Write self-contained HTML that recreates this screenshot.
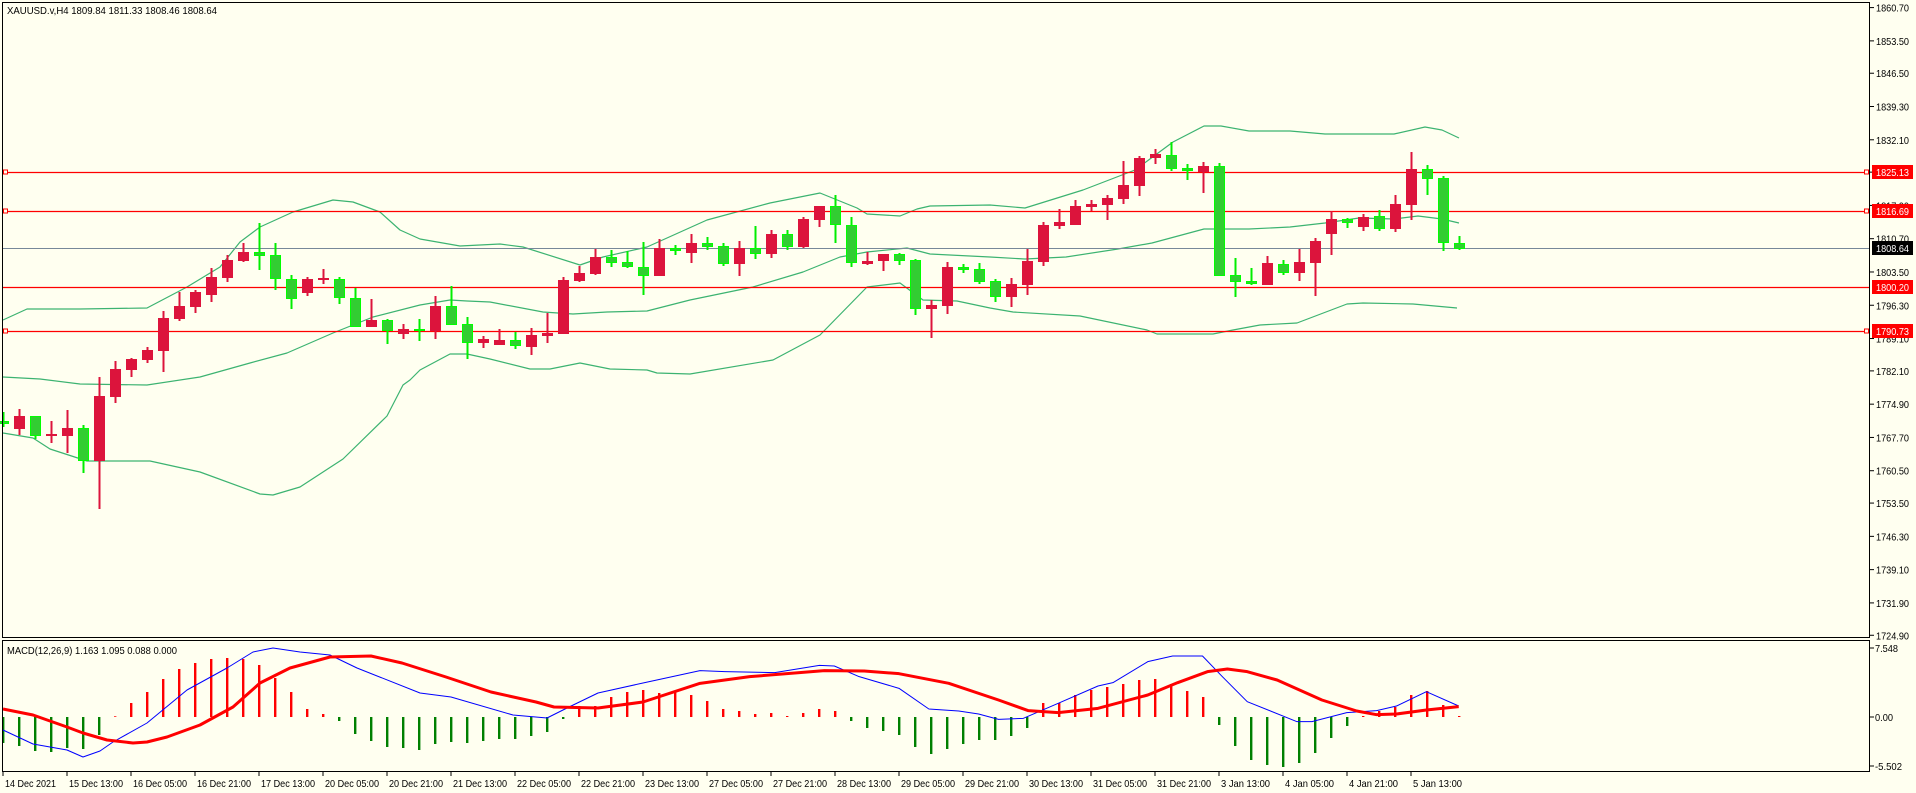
<!DOCTYPE html>
<html><head><meta charset="utf-8">
<style>
html,body{margin:0;padding:0;background:#FFFFF0;}
svg{display:block;}
text{font-family:"Liberation Sans",sans-serif;font-size:10.5px;}
</style></head>
<body>
<svg id="s" width="1916" height="793" xmlns="http://www.w3.org/2000/svg">
<rect x="0" y="0" width="1916" height="793" fill="#FFFFF0"/>
<g id="g"></g>
</svg>
<script>
var NS="http://www.w3.org/2000/svg",G=document.getElementById('g');
function el(t,a,txt){var e=document.createElementNS(NS,t);for(var k in a)e.setAttribute(k,a[k]);if(txt!=null)e.textContent=txt;G.appendChild(e);return e;}
function tx(x,y,s,len,col){return el('text',{x:x,y:y,fill:col||'#000',textLength:len,lengthAdjust:'spacingAndGlyphs'},s);}
function poly(pts,col,w){el('polyline',{points:pts.map(function(p){return p[0]+','+p[1]}).join(' '),fill:'none',stroke:col,'stroke-width':w,'stroke-linejoin':'round'});}
var up=[[3,320],[27,309],[80,309],[147,308],[187,287],[220,267],[240,242],[260,227],[293,212],[333,200],[353,202],[380,212],[400,230],[420,239],[460,246],[500,244],[523,247],[580,265],[603,257],[647,247],[707,220],[770,203],[820,193],[857,208],[867,214],[900,216],[917,209],[930,206],[990,205],[1025,208],[1083,190],[1135,170],[1173,142],[1204,126],[1221,126],[1249,131],[1290,131],[1325,134],[1394,134],[1425,127],[1442,130],[1459,138]];
var mid=[[3,377],[40,379],[80,384],[147,385],[200,377],[250,363],[287,353],[333,333],[373,317],[420,305],[450,300],[467,301],[490,302],[543,312],[573,314],[607,312],[647,311],[690,300],[753,287],[803,272],[840,257],[867,252],[907,248],[930,254],[990,257],[1025,259],[1066,257],[1118,249],[1152,243],[1204,229],[1249,229],[1290,227],[1325,223],[1359,218],[1394,219],[1418,216],[1442,219],[1459,223]];
var lo=[[3,433],[33,438],[50,449],[87,461],[150,461],[200,472],[260,494],[273,495],[300,487],[343,459],[387,416],[403,385],[410,380],[420,370],[450,354],[467,354],[490,359],[530,369],[550,369],[580,363],[610,369],[647,370],[657,373],[690,374],[773,360],[820,335],[867,287],[900,283],[923,300],[957,301],[990,308],[1013,312],[1080,316],[1147,330],[1157,334],[1213,334],[1233,330],[1260,325],[1297,323],[1347,304],[1363,303],[1413,304],[1457,308]];
[up,mid,lo].forEach(function(a){poly(a,'#3CB371',1.2)});
[[172,1],[211,1],[287,0],[331,1]].forEach(function(l){
 el('line',{x1:3,x2:1870,y1:l[0]+.5,y2:l[0]+.5,stroke:'#FF0000','stroke-width':1.2});
 if(l[1]){el('rect',{x:3.5,y:l[0]-2,width:4,height:4,fill:'#FFFFF0',stroke:'#FF0000'});el('rect',{x:1864.5,y:l[0]-2,width:4,height:4,fill:'#FFFFF0',stroke:'#FF0000'});}
});
el('line',{x1:3,x2:1870,y1:248.5,y2:248.5,stroke:'#778899','stroke-width':1});
var C=[[421,424,412,427,'g'],[416,429,409,435,'r'],[416,436,416,439,'g'],[434,436,421,443,'r'],[428,436,410,453,'r'],[428,461,425,473,'g'],[396,461,377,509,'r'],[369,397,361,403,'r'],[359,370,358,377,'r'],[350,360,347,363,'r'],
[318,351,311,372,'r'],[306,319,292,321,'r'],[292,307,290,313,'r'],[277,295,268,302,'r'],[260,278,255,282,'r'],[252,261,243,262,'r'],[252,256,223,270,'g'],[255,279,243,290,'g'],[279,299,275,309,'g'],[279,293,277,296,'r'],
[278,280,269,284,'r'],[279,298,277,304,'g'],[298,327,288,327,'g'],[320,327,299,327,'r'],[320,331,319,344,'g'],[329,334,324,339,'r'],[329,331,319,341,'g'],[306,331,296,339,'r'],[306,325,286,325,'g'],[324,343,317,359,'g'],
[339,343,336,348,'r'],[340,345,329,345,'r'],[340,346,332,349,'g'],[335,347,328,355,'r'],[333,336,313,343,'r'],[280,334,277,334,'r'],[273,281,266,282,'r'],[257,274,249,275,'r'],[257,263,250,267,'g'],[262,267,251,268,'g'],
[267,276,242,295,'g'],[248,276,239,276,'r'],[248,251,245,255,'g'],[243,253,234,263,'r'],[243,247,237,250,'g'],[246,264,243,266,'g'],[248,264,241,276,'r'],[248,254,226,259,'g'],[234,254,230,258,'r'],[234,247,230,250,'g'],
[219,247,217,248,'r'],[206,220,206,227,'r'],[206,225,195,243,'g'],[225,263,217,267,'g'],[261,264,252,265,'r'],[254,261,254,271,'r'],[254,261,253,265,'g'],[260,309,259,315,'g'],[305,309,300,338,'r'],[267,306,262,314,'r'],
[267,270,264,273,'g'],[269,282,263,284,'g'],[281,297,279,302,'g'],[284,297,278,307,'r'],[261,285,249,295,'r'],[225,262,222,266,'r'],[222,226,209,229,'r'],[206,225,200,225,'r'],[204,207,200,211,'r'],[198,205,195,220,'r'],
[185,199,161,204,'r'],[158,186,156,196,'r'],[154,158,149,164,'r'],[155,169,142,171,'g'],[168,171,164,180,'g'],[166,172,162,193,'r'],[166,276,163,276,'g'],[275,282,258,297,'g'],[281,284,268,285,'g'],[263,285,256,285,'r'],
[264,273,260,275,'g'],[262,273,249,281,'r'],[241,263,238,296,'r'],[219,234,211,255,'r'],[219,223,218,228,'g'],[217,227,214,231,'r'],[216,229,210,231,'g'],[204,229,195,232,'r'],[169,205,152,220,'r'],[169,179,165,195,'g'],
[178,243,176,251,'g'],[243,249,236,250,'g']];
C.forEach(function(c,i){var x=3+16*i;var col=c[4]=='r'?'#DC143C':'#00EE00';
 el('rect',{x:x-0.5,y:c[2],width:2,height:c[3]-c[2],fill:col});
 var h=Math.max(1,c[1]-c[0]);
 if(c[4]=='r')el('rect',{x:x-5,y:c[0],width:11,height:h,fill:'#DC143C'});
 else el('rect',{x:x-4.5,y:c[0]+.5,width:10,height:Math.max(1,h-1),fill:'#32CD32',stroke:'#00FF00','stroke-width':1});
});
var H=[-26,-29,-34,-35,-31,-32,-18,0.7,14,25,38,48,54,58,59,58,52,39,25,8,3,-4,-17,-24,-30,-31,-33,-27,-25,-26,-24,-22,-22,-19,-15,-2,11,11,20,25,27,24,25,22,
16,8,6,3,4,1,4,8,6,-4,-11,-14,-18,-30,-37,-32,-27,-23,-23,-19,-11,14,14,22,27,30,33,37,38,33,26,20,-8,-29,-43,-48,-50,-46,-36,-21,-9,1,6,10,22,26,12,1];
H.forEach(function(h,i){var x=3+16*i;if(h>0)el('rect',{x:x-1,y:717-h,width:2.4,height:h,fill:'#FF0000'});else el('rect',{x:x-1,y:717,width:2.4,height:-h,fill:'#008000'});});
function z12(a){return a.map(function(p){return [700+p[0]/2.01,640+p[1]/3]})}
var red=[[3,709],[33,715],[67,727],[83,733],[107,740],[133,743],[147,742],[167,737],[200,725],[233,707],[260,683],[290,668],[330,657],[371,656],[402,663],[446,677],[491,692],[536,702],[554,707],[598,708],[643,702]].concat(z12([[0,130],[100,110],[250,92],[330,93],[400,101],[500,130],[600,180],[660,212],[720,218],[800,205],[900,165],[960,128],[1020,95],[1060,87],[1100,95],[1160,120],[1250,180],[1320,213],[1360,224],[1400,222],[1460,210],[1525,200]]));
var blue=[[3,730],[33,744],[67,750],[83,757],[100,751],[113,742],[147,723],[187,690],[227,668],[253,652],[273,648],[300,652],[330,655],[357,668],[420,693],[451,697],[513,715],[547,718],[567,708],[598,693],[643,683]].concat(z12([[0,92],[50,95],[150,98],[240,76],[270,78],[320,110],[400,145],[460,207],[520,213],[560,222],[600,238],[650,235],[720,190],[800,138],[830,128],[900,65],[950,48],[1010,48],[1050,110],[1100,185],[1200,245],[1230,245],[1300,218],[1360,212],[1400,198],[1460,155],[1525,198]]));
poly(blue,'#0000FF',1);
poly(red,'#FF0000',3);
el('rect',{x:2.5,y:2.5,width:1867,height:635,fill:'none',stroke:'#000','stroke-width':1});
el('rect',{x:2.5,y:640.5,width:1867,height:131,fill:'none',stroke:'#000','stroke-width':1});
var vals=[1860.70,1853.50,1846.50,1839.30,1832.10,1825.10,1817.90,1810.70,1803.50,1796.30,1789.10,1782.10,1774.90,1767.70,1760.50,1753.50,1746.30,1739.10,1731.90,1724.90];
vals.forEach(function(v){var y=172+(1825.13-v)*4.622;el('line',{x1:1870,x2:1874,y1:y,y2:y,stroke:'#000'});tx(1876,y+4,v.toFixed(2),33);});
[[172,'1825.13','#FF0000'],[211,'1816.69','#FF0000'],[287,'1800.20','#FF0000'],[331,'1790.73','#FF0000'],[248,'1808.64','#000']].forEach(function(l){
 el('rect',{x:1872,y:l[0]-7,width:41,height:14,fill:l[2]});tx(1876,l[0]+4,l[1],33,'#fff');});
[[648,'7.548',23],[717,'0.00',18],[766,'-5.502',27]].forEach(function(l){el('line',{x1:1870,x2:1874,y1:l[0],y2:l[0],stroke:'#000'});tx(1875,l[0]+4,l[1],l[2]);});
var T=["14 Dec 2021","15 Dec 13:00","16 Dec 05:00","16 Dec 21:00","17 Dec 13:00","20 Dec 05:00","20 Dec 21:00","21 Dec 13:00","22 Dec 05:00","22 Dec 21:00","23 Dec 13:00","27 Dec 05:00","27 Dec 21:00","28 Dec 13:00","29 Dec 05:00","29 Dec 21:00","30 Dec 13:00","31 Dec 05:00","31 Dec 21:00","3 Jan 13:00","4 Jan 05:00","4 Jan 21:00","5 Jan 13:00"];
T.forEach(function(t,i){var x=3+64*i;el('line',{x1:x,x2:x,y1:772,y2:776,stroke:'#000'});tx(x+2,787,t,t.length==11&&t.indexOf(':')<0?51:(t.length==11?49:54));});
var t1=tx(7,14,'XAUUSD.v,H4  1809.84 1811.33 1808.46 1808.64',210);t1.setAttribute('xml:space','preserve');
tx(7,654,'MACD(12,26,9) 1.163 1.095 0.088 0.000',170);
</script>
</body></html>
